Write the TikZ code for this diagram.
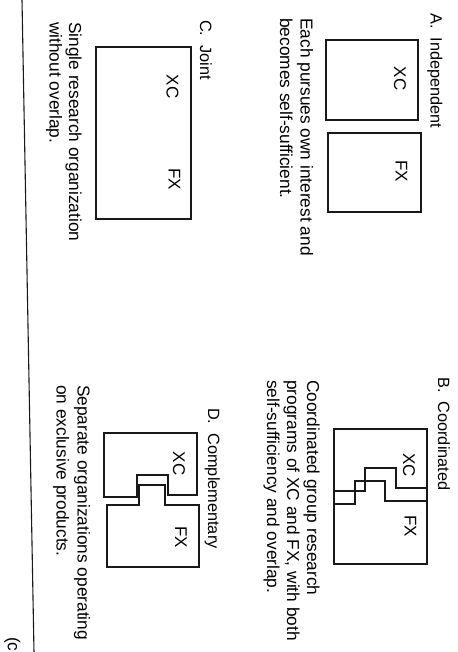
\documentclass[tikz,border=0pt]{standalone}
\usepackage{fontspec}
\setmainfont{Liberation Sans}
\begin{document}
\begin{tikzpicture}[x=1pt,y=-1pt,
  txt/.style={rotate=-90,anchor=base west,inner sep=0pt,font=\fontsize{17.3}{20}\selectfont},
  ttl/.style={rotate=-90,anchor=base west,inner sep=0pt,font=\fontsize{16.3}{20}\selectfont},
  lbl/.style={rotate=-90,anchor=center,inner sep=0pt,font=\fontsize{17}{20}\selectfont},
  box/.style={draw=black!90,line width=1.1pt,line join=miter}]
\useasboundingbox (0,0) rectangle (457,652);
\fill[white] (0,0) rectangle (457,652);

% margin rule
\coordinate (rt) at (22,0);
\coordinate (rb) at (34,652);
\draw[line width=1.1pt,black!90] (rt) -- (rb);
\node[txt] (cmark) at (8,637) {(c};

% A. Independent
\node[ttl] (ta) at (430.5,13) {A.\ \ Independent};
\draw[box] (326,40) rectangle (418,120);
\draw[box] (328,133) rectangle (421,212);
\node[lbl] (axc) at (400,78.5) {XC};
\node[lbl] (afx) at (401.5,171) {FX};
\node[txt] (ca1) at (300.5,18) {Each pursues own interest and};
\node[txt] (ca2) at (280,18) {becomes self-sufficient.};

% B. Coordinated
\node[ttl] (tb) at (438,377) {B.\ \ Coordinated};
\draw[box] (334,429) rectangle (427,564);
\draw[box] (334,491) -- (365,491) -- (365,468) -- (396,468) -- (396,488) -- (427,488);
\draw[box] (334,504) -- (355,504) -- (355,481) -- (385,481) -- (385,501) -- (427,501);
\node[lbl] (bxc) at (409,465) {XC};
\node[lbl] (bfx) at (410.5,526) {FX};
\node[txt] (cb1) at (307,380) {Coordinated group research};
\node[txt] (cb2) at (287,380) {programs of XC and FX, with both};
\node[txt] (cb3) at (267,380) {self-sufficiency and overlap.};

% C. Joint
\node[ttl] (tc) at (200,20) {C.\ \ Joint};
\draw[box] (96,47) rectangle (191,219);
\node[lbl] (cxc) at (172.5,86.5) {XC};
\node[lbl] (cfx) at (174.5,179) {FX};
\node[txt] (cc1) at (69,22) {Single research organization};
\node[txt] (cc2) at (49.5,22) {without overlap.};

% D. Complementary
\node[ttl] (td) at (208,408) {D.\ \ Complementary};
\draw[box] (104,433) -- (197,433) -- (197,495) -- (168,495) -- (168,475) -- (137,475) -- (137,497) -- (104,497) -- cycle;
\draw[box] (107,505) -- (139,505) -- (139,485) -- (165,485) -- (165,505) -- (199,505) -- (199,567) -- (107,567) -- cycle;
\node[lbl] (dxc) at (179,463.5) {XC};
\node[lbl] (dfx) at (181,537) {FX};
\node[txt] (cd1) at (77.5,385) {Separate organizations operating};
\node[txt] (cd2) at (56.5,385) {on exclusive products.};
\end{tikzpicture}
\end{document}
